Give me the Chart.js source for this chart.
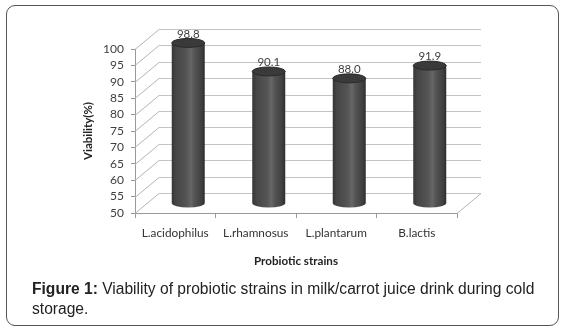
<!DOCTYPE html>
<html><head><meta charset="utf-8">
<script src="https://cdn.jsdelivr.net/npm/chart.js@4/dist/chart.umd.min.js"></script>
<style>
html,body{margin:0;padding:0;background:#fff;}
#wrap{position:relative;width:567px;height:331px;overflow:hidden;}
#frame{position:absolute;left:6px;top:5px;width:553px;height:321px;border:1px solid #555;border-radius:9px;box-sizing:border-box;}
canvas{position:absolute;left:0;top:0;}
#cap{position:absolute;left:32px;top:279px;font-family:"Liberation Sans",Arial,sans-serif;font-size:15.6px;line-height:20px;color:#222;white-space:nowrap;}
</style></head>
<body><div id="wrap"><div id="frame"></div><canvas id="c" width="567" height="331"></canvas>
<div id="cap"><b>Figure 1:</b> Viability of probiotic strains in milk/carrot juice drink during cold<br>storage.</div></div>
<script>
const categories = ["L.acidophilus", "L.rhamnosus", "L.plantarum", "B.lactis"];
const viability = [98.8, 90.1, 88.0, 91.9];
const yMin = 50, yMax = 100, yStep = 5;

const DX = 24, DY = -20;
const chartFont = "Lato, 'Open Sans', sans-serif";

const wallPlugin = {
  id: 'wall',
  beforeDatasetsDraw(chart) {
    const {ctx, chartArea: a, scales: {y}} = chart;
    ctx.save();
    ctx.lineWidth = 1;
    y.ticks.forEach(t => {
      const yy = Math.round(y.getPixelForValue(t.value)) + 0.5;
      ctx.strokeStyle = '#c4c4c4';
      ctx.beginPath();
      ctx.moveTo(a.left + DX, yy + DY);
      ctx.lineTo(a.right + DX, yy + DY);
      ctx.stroke();
      ctx.strokeStyle = '#b4b4b4';
      ctx.beginPath();
      ctx.moveTo(a.left, yy);
      ctx.lineTo(a.left + DX, yy + DY);
      ctx.stroke();
    });
    ctx.strokeStyle = '#b4b4b4';
    ctx.beginPath();
    ctx.moveTo(a.right, a.bottom + 0.5);
    ctx.lineTo(a.right + DX, a.bottom + 0.5 + DY);
    ctx.stroke();
    ctx.restore();
  },
  afterDatasetsDraw(chart) {
    const {ctx, scales: {y}} = chart;
    const meta = chart.getDatasetMeta(0);
    const ox = DX / 2 + 1, oy = DY / 2;
    const basePx = y.getPixelForValue(yMin);
    ctx.save();
    meta.data.forEach((bar, i) => {
      const w = bar.width;
      const cx = bar.x + ox, top = bar.y + oy, base = basePx + oy;
      const l = cx - w / 2, r = cx + w / 2;
      const ry = 4.5;
      const g = ctx.createLinearGradient(l, 0, r, 0);
      g.addColorStop(0, '#353535');
      g.addColorStop(0.12, '#454545');
      g.addColorStop(0.45, '#555555');
      g.addColorStop(0.58, '#676767');
      g.addColorStop(0.68, '#555555');
      g.addColorStop(0.9, '#404040');
      g.addColorStop(1, '#2e2e2e');
      ctx.fillStyle = g;
      ctx.beginPath();
      ctx.moveTo(l, top);
      ctx.lineTo(l, base);
      ctx.ellipse(cx, base, w / 2, ry, 0, Math.PI, 0, true);
      ctx.lineTo(r, top);
      ctx.closePath();
      ctx.fill();
      ctx.fillStyle = '#3a3a3a';
      ctx.strokeStyle = '#2a2a2a';
      ctx.lineWidth = 1;
      ctx.beginPath();
      ctx.ellipse(cx, top, w / 2, ry, 0, 0, Math.PI * 2);
      ctx.fill();
      ctx.stroke();
      ctx.fillStyle = '#404040';
      ctx.font = "11.5px " + chartFont;
      ctx.textAlign = 'center';
      ctx.textBaseline = 'middle';
      ctx.fillText(viability[i].toFixed(1), cx, top - 9);
    });
    ctx.restore();
  }
};

new Chart(document.getElementById('c'), {
  type: 'bar',
  data: {
    labels: categories,
    datasets: [{
      data: viability,
      backgroundColor: 'rgba(0,0,0,0)',
      borderWidth: 0,
      barPercentage: 0.41,
      categoryPercentage: 1
    }]
  },
  options: {
    responsive: false,
    animation: false,
    devicePixelRatio: 1,
    layout: {padding: {left: 70, top: 49, right: 110, bottom: 58}},
    plugins: {legend: {display: false}, tooltip: {enabled: false}},
    scales: {
      y: {
        min: yMin, max: yMax,
        ticks: {stepSize: yStep, autoSkip: false, color: '#404040', font: {family: chartFont, size: 12}, padding: 7},
        grid: {drawOnChartArea: false, drawTicks: true, tickLength: 4, color: '#999'},
        border: {color: '#999'},
        title: {display: true, text: 'Viability(%)', color: '#222', font: {family: chartFont, size: 11.5, weight: 'bold'}, padding: {top: 11, bottom: 0}},
        afterFit: s => { s.width = 65; }
      },
      x: {
        ticks: {color: '#333', font: {family: chartFont, size: 11.8}, padding: 8, autoSkip: false, maxRotation: 0},
        grid: {drawOnChartArea: false, drawTicks: true, tickLength: 5, color: '#999', offset: true},
        border: {color: '#999'},
        title: {display: true, text: 'Probiotic strains', color: '#222', font: {family: chartFont, size: 11.6, weight: 'bold'}, padding: {top: 0, bottom: 5}},
        afterFit: s => { s.height = 60; }
      }
    }
  },
  plugins: [wallPlugin]
});
</script></body></html>
